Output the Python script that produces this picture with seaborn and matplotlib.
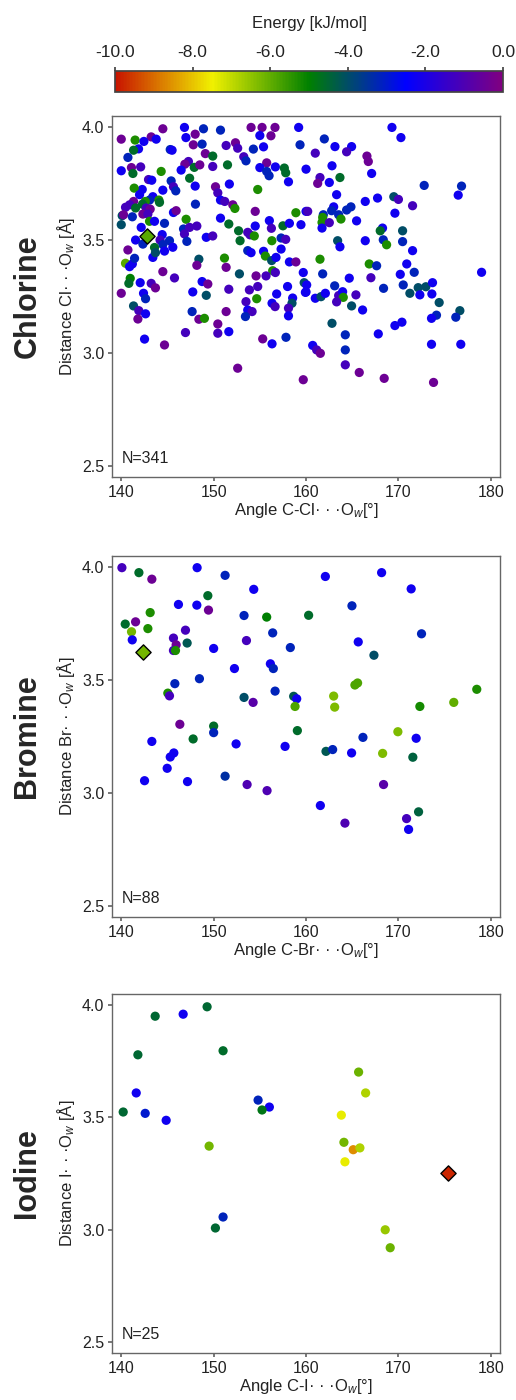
import numpy as np
import pandas as pd
import matplotlib
matplotlib.use("Agg")
import matplotlib.pyplot as plt
import seaborn as sns
from matplotlib.colors import LinearSegmentedColormap, Normalize
from matplotlib.cm import ScalarMappable

sns.set_theme(style="ticks")
plt.rcParams["font.family"] = ["Liberation Sans", "DejaVu Sans"]
plt.rcParams["mathtext.fontset"] = "custom"
plt.rcParams["mathtext.rm"] = "Liberation Sans"
plt.rcParams["mathtext.it"] = "Liberation Sans:italic"

# ---- chlorine contacts (angle C-Cl...Ow, distance, energy) ----
cl_angle = [
    140.0, 141.5, 143.24, 143.78, 144.5, 142.45, 141.87, 141.33, 140.72, 146.84,
    148.0, 148.9, 147.0, 147.8, 148.75, 145.3, 145.5, 150.74, 154.05, 155.24,
    156.64, 159.2, 155.0, 156.2, 159.35, 155.4, 154.3, 152.36, 151.35, 152.6,
    149.1, 149.9, 147.27, 146.88, 147.9, 148.5, 149.9, 151.5, 153.26, 153.5,
    155.74, 155.0, 156.68, 157.65, 157.8, 158.1, 155.74, 156.0, 160.0, 140.0,
    141.1, 142.1, 141.26, 144.32, 142.95, 143.3, 146.48, 147.4, 145.4, 145.65,
    145.9, 144.5, 143.42, 142.27, 141.4, 141.98, 148.0, 150.2, 150.45, 150.74,
    151.2, 151.7, 154.77, 148.03, 152.07, 152.3, 154.5, 145.65, 145.94, 144.07,
    144.14, 143.06, 142.6, 142.3, 141.33, 140.9, 140.46, 141.55, 142.7, 143.13,
    142.34, 142.88, 140.1, 140.25, 141.2, 143.06, 143.6, 144.68, 140.0, 142.16,
    147.02, 146.74, 147.4, 148.18, 146.84, 147.1, 149.2, 149.9, 150.74, 151.64,
    152.7, 152.86, 153.69, 153.94, 154.4, 154.5, 156.03, 156.25, 157.5, 158.2,
    156.3, 157.3, 157.8, 158.9, 159.45, 160.0, 144.43, 144.2, 145.22, 144.5,
    141.55, 142.34, 143.6, 140.72, 145.58, 153.69, 155.4, 157.3,
    169.3, 170.27, 161.98, 163.13, 164.93, 164.39, 161.0, 166.59, 166.74, 162.81,
    167.1, 163.67, 161.51, 161.26, 162.52, 172.79, 176.83, 176.47, 163.31, 166.41,
    167.74, 169.5, 170.0, 171.53, 169.62, 160.18, 162.99, 162.77, 164.86, 164.39,
    163.53, 161.87, 161.8, 161.73, 162.52, 163.78, 165.47, 161.73, 168.28, 168.03,
    170.45, 163.42, 163.67, 166.41, 168.36, 168.72, 170.45, 171.53,
    140.46, 141.2, 141.44, 140.9, 143.42, 143.7, 144.68, 148.4, 148.18, 151.17,
    151.35, 154.05, 155.6, 156.28, 156.75, 156.39, 156.68, 158.2, 158.9, 159.7,
    152.79, 154.59, 155.67, 144.5, 145.76, 140.97, 140.82, 142.05, 143.24, 143.7,
    140.0, 142.41, 142.63, 148.75, 149.37, 147.74, 149.2, 151.64, 154.77, 153.87,
    156.82, 158.0, 158.55, 159.8, 160.0, 154.66, 153.5, 156.32, 156.65, 158.48,
    158.1, 158.1, 153.69, 154.16, 153.44, 151.35, 141.33, 141.9, 142.63, 141.8,
    147.67, 148.4, 149.0, 150.45, 150.45, 151.64, 146.95, 142.52, 144.68, 155.31,
    156.32, 157.83, 152.6, 159.7,
    161.51, 166.84, 167.64, 170.9, 161.8, 164.68, 167.02, 170.2, 171.71, 179.0,
    160.07, 159.93, 163.1, 161.0, 161.62, 162.09, 163.53, 163.96, 164.03, 163.31,
    165.4, 164.93, 166.12, 168.39, 170.52, 171.24, 172.14, 172.97, 173.69, 172.32,
    173.62, 174.41, 176.65, 176.21, 174.12, 173.58, 162.81, 169.62, 170.38, 164.25,
    167.82, 160.72, 161.15, 161.55, 164.25, 164.25, 165.76, 168.46, 173.8, 173.58,
    176.75,
]
cl_dist = [
    3.947, 3.943, 3.957, 3.947, 3.993, 3.937, 3.904, 3.898, 3.866, 3.999,
    3.969, 3.993, 3.954, 3.922, 3.925, 3.901, 3.898, 3.987, 3.999, 3.999,
    3.999, 3.999, 3.963, 3.962, 3.922, 3.913, 3.903, 3.931, 3.919, 3.907,
    3.883, 3.872, 3.848, 3.836, 3.822, 3.833, 3.826, 3.833, 3.869, 3.851,
    3.842, 3.821, 3.824, 3.819, 3.798, 3.758, 3.804, 3.785, 3.814, 3.807,
    3.821, 3.824, 3.795, 3.804, 3.768, 3.765, 3.810, 3.774, 3.762, 3.736,
    3.718, 3.721, 3.692, 3.724, 3.730, 3.701, 3.739, 3.736, 3.709, 3.677,
    3.671, 3.748, 3.724, 3.659, 3.656, 3.640, 3.627, 3.622, 3.630, 3.677,
    3.667, 3.677, 3.671, 3.659, 3.671, 3.656, 3.645, 3.642, 3.642, 3.637,
    3.615, 3.615, 3.608, 3.612, 3.603, 3.583, 3.583, 3.574, 3.568, 3.556,
    3.592, 3.549, 3.556, 3.562, 3.527, 3.494, 3.512, 3.518, 3.597, 3.571,
    3.541, 3.497, 3.534, 3.523, 3.518, 3.562, 3.586, 3.552, 3.563, 3.574,
    3.497, 3.509, 3.503, 3.621, 3.568, 3.627, 3.524, 3.500, 3.497, 3.480,
    3.500, 3.482, 3.467, 3.456, 3.468, 3.453, 3.450, 3.460,
    3.999, 3.954, 3.948, 3.914, 3.914, 3.891, 3.885, 3.872, 3.848, 3.829,
    3.795, 3.777, 3.777, 3.751, 3.755, 3.742, 3.739, 3.699, 3.701, 3.671,
    3.686, 3.692, 3.680, 3.652, 3.619, 3.627, 3.647, 3.630, 3.647, 3.633,
    3.612, 3.612, 3.600, 3.578, 3.577, 3.593, 3.585, 3.553, 3.553, 3.541,
    3.541, 3.497, 3.470, 3.497, 3.501, 3.479, 3.493, 3.453,
    3.397, 3.394, 3.419, 3.382, 3.423, 3.444, 3.451, 3.415, 3.388, 3.420,
    3.379, 3.444, 3.429, 3.409, 3.423, 3.364, 3.356, 3.403, 3.403, 3.356,
    3.350, 3.341, 3.341, 3.360, 3.332, 3.330, 3.308, 3.311, 3.308, 3.288,
    3.264, 3.264, 3.240, 3.316, 3.305, 3.270, 3.255, 3.282, 3.294, 3.279,
    3.261, 3.294, 3.243, 3.311, 3.270, 3.240, 3.227, 3.220, 3.205, 3.220,
    3.198, 3.164, 3.190, 3.183, 3.161, 3.183, 3.208, 3.187, 3.173, 3.150,
    3.183, 3.149, 3.153, 3.128, 3.087, 3.094, 3.090, 3.061, 3.035, 3.062,
    3.040, 3.069, 2.932, 2.881,
    3.415, 3.394, 3.386, 3.394, 3.350, 3.331, 3.333, 3.348, 3.357, 3.357,
    3.301, 3.268, 3.297, 3.242, 3.249, 3.264, 3.254, 3.271, 3.246, 3.226,
    3.257, 3.208, 3.190, 3.286, 3.301, 3.264, 3.289, 3.293, 3.311, 3.257,
    3.261, 3.223, 3.187, 3.158, 3.167, 3.153, 3.131, 3.121, 3.136, 3.080,
    3.084, 3.033, 3.013, 2.998, 3.013, 2.947, 2.913, 2.887, 2.869, 3.038,
    3.038,
]
cl_energy = [
    -0.4, -5.3, -0.4, -2.2, -0.4, -2.2, -2.2, -4.6, -3.2, -2.2,
    -0.4, -3.2, -2.2, -0.4, -3.2, -3.2, -2.2, -3.2, -0.4, -0.4,
    -0.4, -2.2, -2.2, -0.4, -3.2, -2.2, -3.2, -0.4, -1.2, -1.2,
    -0.4, -4.6, -1.2, -0.4, -4.6, -0.4, -1.2, -4.6, -1.2, -3.2,
    -0.4, -2.2, -2.2, -4.6, -4.6, -2.2, -3.2, -3.2, -2.2, -2.2,
    -0.4, -1.2, -4.6, -5.3, -1.2, -2.2, -2.2, -4.6, -3.2, -1.2,
    -3.2, -2.2, -2.2, -2.2, -5.3, -2.2, -2.2, -0.4, -1.2, -2.2,
    -1.2, -2.2, -5.3, -3.2, -0.4, -5.3, -0.4, -2.2, -0.4, -5.3,
    -4.6, -3.2, -5.3, -4.6, -0.4, -1.2, -1.2, -4.6, -1.2, -0.4,
    -0.4, -1.2, -4.0, -0.4, -3.2, -5.3, -2.2, -3.2, -4.0, -2.2,
    -5.3, -3.2, -1.2, -1.2, -1.2, -3.2, -2.2, -1.2, -2.2, -4.6,
    -4.6, -4.6, -1.2, -1.2, -5.3, -2.2, -2.2, -1.2, -4.6, -2.2,
    -5.3, -3.2, -1.2, -5.3, -2.2, -2.2, -2.2, -1.2, -3.2, -3.2,
    -2.2, -3.2, -4.6, -0.4, -2.2, -3.2, -2.2, -2.2,
    -2.2, -2.2, -3.2, -2.2, -2.2, -1.2, -1.2, -0.4, -0.4, -2.2,
    -2.2, -4.6, -1.2, -0.4, -2.2, -3.2, -3.2, -2.2, -2.2, -2.2,
    -2.2, -4.0, -1.2, -1.2, -2.2, -1.2, -2.2, -3.2, -3.2, -3.2,
    -3.2, -3.2, -5.3, -5.3, -1.2, -5.3, -2.2, -2.2, -2.2, -4.6,
    -4.0, -4.0, -2.2, -2.2, -3.2, -5.3, -3.2, -2.2,
    -5.9, -2.2, -3.2, -2.2, -2.2, -4.0, -2.2, -4.0, -0.4, -5.3,
    -0.4, -2.2, -5.3, -4.0, -2.2, -5.3, -1.2, -2.2, -0.4, -2.2,
    -4.0, -0.4, -1.2, -0.4, -1.2, -5.0, -4.6, -2.2, -1.2, -0.4,
    -0.4, -2.2, -3.2, -2.2, -0.4, -2.2, -4.0, -1.2, -1.2, -1.2,
    -2.2, -2.2, -2.2, -4.0, -2.2, -5.3, -1.2, -2.2, -1.2, -4.0,
    -1.2, -2.2, -2.2, -1.2, -3.2, -0.4, -4.0, -1.2, -2.2, -0.4,
    -3.2, -0.4, -5.3, -0.4, -1.2, -2.2, -1.2, -2.2, -0.4, -0.4,
    -2.2, -3.2, -0.4, -0.4,
    -5.3, -5.3, -3.2, -2.2, -3.2, -2.2, -1.2, -2.2, -3.2, -2.2,
    -2.2, -2.2, -3.2, -2.2, -4.0, -2.2, -1.2, -2.2, -5.3, -1.2,
    -1.2, -4.0, -2.2, -3.2, -3.2, -4.0, -4.0, -4.0, -2.2, -2.2,
    -2.2, -4.0, -4.0, -3.2, -3.2, -2.2, -4.0, -2.2, -2.2, -3.2,
    -2.2, -2.2, -1.2, -0.4, -3.2, -1.2, -0.4, -0.4, -0.4, -2.2,
    -2.2,
]
cl_best = (142.77, 3.519, -5.9)

# ---- bromine ----
br_angle = [
    140.07, 141.91, 143.31, 148.21, 151.24, 154.34, 162.09, 168.18, 171.38, 149.37,
    149.44, 146.19, 148.18, 143.13, 153.29, 155.74, 160.28, 164.97, 172.5, 140.43,
    141.55, 141.11, 142.88, 141.19, 146.95, 145.65, 145.94, 145.65, 145.87, 147.13,
    150.0, 153.55, 156.39, 158.3, 165.65, 167.35, 152.25, 156.14, 156.46, 148.46,
    145.8, 145.04, 145.22, 153.29, 154.27, 156.65, 158.66, 158.99, 158.81, 162.99,
    163.1, 165.29, 165.58, 172.32, 175.99, 178.48, 146.34, 150.0, 150.0, 147.78,
    159.06, 169.94, 143.31, 152.43, 157.73, 166.16, 171.92, 162.16, 162.88, 164.93,
    168.29, 171.56, 145.3, 145.69, 144.97, 142.52, 147.17, 151.24, 153.62, 155.78,
    161.55, 164.21, 168.39, 170.88, 171.1, 172.18,
]
br_dist = [
    3.998, 3.976, 3.947, 3.998, 3.964, 3.902, 3.959, 3.976, 3.904, 3.874,
    3.810, 3.835, 3.832, 3.799, 3.786, 3.779, 3.787, 3.829, 3.705, 3.748,
    3.758, 3.714, 3.728, 3.678, 3.721, 3.686, 3.656, 3.631, 3.631, 3.664,
    3.640, 3.675, 3.709, 3.644, 3.669, 3.610, 3.551, 3.572, 3.551, 3.506,
    3.484, 3.442, 3.430, 3.423, 3.401, 3.451, 3.428, 3.417, 3.383, 3.429,
    3.380, 3.478, 3.487, 3.383, 3.401, 3.459, 3.304, 3.296, 3.267, 3.239,
    3.276, 3.271, 3.228, 3.217, 3.206, 3.246, 3.242, 3.184, 3.192, 3.177,
    3.175, 3.158, 3.159, 3.177, 3.109, 3.054, 3.050, 3.074, 3.037, 3.010,
    2.944, 2.866, 3.037, 2.886, 2.838, 2.916,
]
br_energy = [
    -1.2, -4.6, -0.4, -2.2, -3.2, -2.2, -2.2, -2.2, -2.2, -4.6,
    -0.4, -2.2, -2.2, -5.3, -3.2, -5.0, -4.6, -3.2, -3.2, -4.6,
    -0.4, -6.2, -5.3, -2.2, -1.2, -1.2, -0.4, -1.2, -5.3, -4.2,
    -2.2, -1.2, -3.2, -3.2, -2.2, -4.0, -2.2, -2.2, -3.2, -3.2,
    -3.2, -5.3, -1.2, -4.0, -0.8, -3.2, -4.2, -2.2, -5.8, -6.3,
    -6.3, -5.8, -5.8, -5.2, -6.0, -5.3, -0.4, -4.6, -3.2, -4.6,
    -4.6, -6.3, -2.2, -2.2, -2.2, -3.2, -2.2, -4.2, -3.2, -2.2,
    -6.3, -4.4, -2.2, -2.2, -2.2, -2.2, -2.2, -3.4, -1.0, -1.0,
    -2.2, -1.0, -0.8, -1.2, -2.2, -4.4,
]
br_best = (142.34, 3.624, -6.2)

# ---- iodine ----
i_angle = [
    143.67, 146.7, 149.29, 141.8, 151.02, 141.62, 140.21, 142.59, 144.86, 154.81,
    156.03, 155.24, 149.51, 165.69, 166.45, 163.82, 164.1, 165.11, 165.83, 164.21,
    151.02, 150.19, 168.57, 169.11,
]
i_dist = [
    3.951, 3.960, 3.993, 3.779, 3.797, 3.609, 3.524, 3.518, 3.487, 3.577,
    3.546, 3.533, 3.372, 3.702, 3.609, 3.510, 3.389, 3.356, 3.364, 3.302,
    3.056, 3.007, 2.999, 2.919,
]
i_energy = [
    -4.5, -2.2, -4.5, -4.5, -4.6, -2.2, -4.5, -3.0, -2.2, -3.2,
    -2.2, -4.8, -6.2, -6.1, -6.8, -7.4, -6.2, -8.6, -6.8, -7.4,
    -3.2, -4.5, -6.6, -6.1,
]
i_best = (175.35, 3.251, -9.8)

# counts printed on the panels
n_counts = [341, 88, 25]

energy_cmap = LinearSegmentedColormap.from_list(
    "energy",
    [(0.0, "#c81400"), (0.25, "#f0f000"), (0.5, "#008000"),
     (0.75, "#0000ff"), (1.0, "#800080")],
)
norm = Normalize(vmin=-10, vmax=0)

fig = plt.figure(figsize=(5.16, 14), dpi=100)

spine_col = "#666666"
text_col = "#222222"


def draw_panel(ax, angle, dist, energy, best, name, sym, n):

    df = pd.DataFrame({"angle": angle, "dist": dist, "energy": energy})

    sns.scatterplot(
        data=df, x="angle", y="dist", hue="energy",
        palette=energy_cmap, hue_norm=norm, legend=False,
        s=44, edgecolor="none", linewidth=0, ax=ax
    )

    best_df = pd.DataFrame({"angle": [best[0]], "dist": [best[1]], "energy": [best[2]]})

    sns.scatterplot(
        data=best_df, x="angle", y="dist", hue="energy",
        palette=energy_cmap, hue_norm=norm, legend=False,
        marker="D", s=60, edgecolor="black", linewidth=1.0, ax=ax, zorder=5
    )

    ax.set_xlim(139, 181)
    ax.set_ylim(2.45, 4.05)
    ax.set_xticks([140, 150, 160, 170, 180])
    ax.set_yticks([2.5, 3.0, 3.5, 4.0])
    ax.set_yticklabels(["2.5", "3.0", "3.5", "4.0"])

    for sp in ax.spines.values():
        sp.set_color(spine_col)
        sp.set_linewidth(1.0)

    ax.tick_params(colors=spine_col, labelcolor=text_col, labelsize=11.5, length=3, pad=2.5)

    ax.set_xlabel("Angle C-" + sym + "· · ·O$_w$[°]", fontsize=12, color=text_col, labelpad=1)
    ax.set_ylabel("Distance " + sym + "· · ·O$_w$ [Å]", fontsize=12, color=text_col)
    ax.yaxis.set_label_coords(-0.09, 0.5)

    ax.text(0.025, 0.03, f"N={n}", transform=ax.transAxes,
            fontsize=11.5, color=text_col, ha="left", va="bottom")

    pos = ax.get_position()
    fig.text(0.053, pos.y0 + pos.height / 2, name, rotation=90,
             fontsize=22, fontweight="bold", ha="center", va="center")


ax1 = fig.add_axes([0.2171, 0.6593, 0.752, 0.2579])
ax2 = fig.add_axes([0.2171, 0.3450, 0.752, 0.2579])
ax3 = fig.add_axes([0.2171, 0.0336, 0.752, 0.2564])

draw_panel(ax1, cl_angle, cl_dist, cl_energy, cl_best, "Chlorine", "Cl", n_counts[0])
draw_panel(ax2, br_angle, br_dist, br_energy, br_best, "Bromine", "Br", n_counts[1])
draw_panel(ax3, i_angle, i_dist, i_energy, i_best, "Iodine", "I", n_counts[2])

# colour bar on top
cax = fig.add_axes([115 / 516, 1 - 92 / 1400, 388 / 516, 21 / 1400])
cb = fig.colorbar(ScalarMappable(norm=norm, cmap=energy_cmap), cax=cax, orientation="horizontal")
cb.set_ticks([-10, -8, -6, -4, -2, 0])
cb.set_ticklabels(["-10.0", "-8.0", "-6.0", "-4.0", "-2.0", "0.0"])
cax.xaxis.set_ticks_position("top")
cax.xaxis.set_label_position("top")
cax.tick_params(labelsize=12.5, length=3, pad=5, colors="#444444", labelcolor=text_col)
cb.set_label("Energy [kJ/mol]", fontsize=12, color=text_col, labelpad=12)
cb.outline.set_edgecolor("#444444")

fig.savefig("out.png", dpi=100)
